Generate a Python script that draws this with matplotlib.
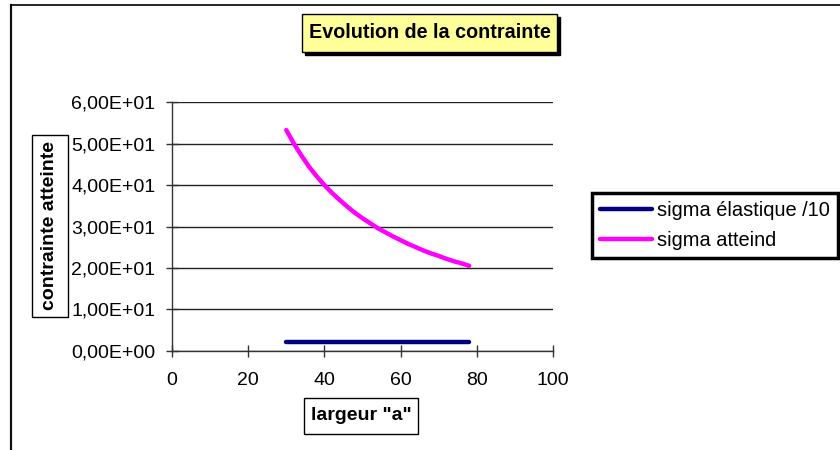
import matplotlib
matplotlib.use("Agg")
import matplotlib.pyplot as plt
from matplotlib.lines import Line2D
from matplotlib.patches import Rectangle
from matplotlib.ticker import FuncFormatter

plt.rcParams['font.family'] = ['Liberation Sans', 'DejaVu Sans']

# largeur "a" et contraintes
a = [30, 32, 34, 36, 38, 40, 42, 44, 46, 48, 50, 52, 54,
     56, 58, 60, 62, 64, 66, 68, 70, 72, 74, 76, 78]
sigma_atteind = [53.3, 50.0, 47.1, 44.4, 42.1, 40.0, 38.1, 36.4, 34.8, 33.3,
                 32.0, 30.8, 29.6, 28.6, 27.6, 26.7, 25.8, 25.0, 24.2, 23.5,
                 22.9, 22.2, 21.6, 21.1, 20.5]
sigma_elastique_10 = [2.0] * len(a)

x_ticks = [0, 20, 40, 60, 80, 100]
y_ticks = [0, 10, 20, 30, 40, 50, 60]

W, H = 840, 450
fig = plt.figure(figsize=(W / 100, H / 100), dpi=100)
ax = fig.add_axes([172 / W, 1 - 350.7 / H, (553 - 172) / W, (350.7 - 102.3) / H])

ax.plot(a, sigma_elastique_10, color='#000080', lw=3.2, solid_capstyle='round',
        label='sigma élastique /10')
ax.plot(a, sigma_atteind, color='#FF00FF', lw=3.2, solid_capstyle='round',
        label='sigma atteind')

ax.set_xlim(0, 100)
ax.set_ylim(0, 60)
ax.set_xticks(x_ticks)
ax.set_yticks(y_ticks)
ax.yaxis.set_major_formatter(FuncFormatter(lambda v, p: f"{v:.2E}".replace('.', ',')))
ax.tick_params(direction='inout', length=8, width=1, labelsize=14, color='#333333')
ax.tick_params(axis='x', pad=11)
ax.tick_params(axis='y', pad=8)
ax.grid(axis='y', color='#222222', lw=1)
ax.set_axisbelow(True)
for s in ['top', 'right']:
    ax.spines[s].set_visible(False)
for s in ['left', 'bottom']:
    ax.spines[s].set_color('#333333')
    ax.spines[s].set_linewidth(1)


def boite(x0, y0, x1, y1, fc, z=1):
    # rectangle en pixels depuis le coin haut-gauche
    fig.add_artist(Rectangle((x0 / W, 1 - y1 / H), (x1 - x0) / W, (y1 - y0) / H,
                             transform=fig.transFigure, fc=fc, ec='black', lw=1, zorder=z))


# titre avec ombre
boite(305, 17, 560, 55, 'black')
boite(302, 14, 557, 52, '#FFFF99', z=2)
fig.text(429.5 / W, 1 - 33 / H, 'Evolution de la contrainte', ha='center', va='center',
         fontsize=14.2, fontweight='bold', zorder=3)

boite(304, 398, 418, 434, 'white')
fig.text(361 / W, 1 - 416 / H, 'largeur "a"', ha='center', va='center',
         fontsize=14, fontweight='bold', zorder=3)
boite(32, 135, 68, 317, 'white')
fig.text(50 / W, 1 - 226 / H, 'contrainte atteinte', ha='center', va='center',
         rotation=90, fontsize=14, fontweight='bold', zorder=3)

leg = fig.legend(loc='upper left', bbox_to_anchor=(592 / W, 1 - 193 / H),
                 fontsize=14.4, frameon=True, fancybox=False, framealpha=1,
                 handlelength=2.6, handletextpad=0.25, borderpad=0.4,
                 labelspacing=0.55, borderaxespad=0)
leg.get_frame().set_edgecolor('black')
leg.get_frame().set_linewidth(2.5)

# cadre du graphique
fig.add_artist(Line2D([11 / W, 11 / W], [0, 1 - 5 / H], color='#111111', lw=1.6,
                      transform=fig.transFigure))
fig.add_artist(Line2D([11 / W, 1], [1 - 5 / H, 1 - 5 / H], color='black', lw=1.2,
                      transform=fig.transFigure))

fig.savefig('out.png', dpi=100)
